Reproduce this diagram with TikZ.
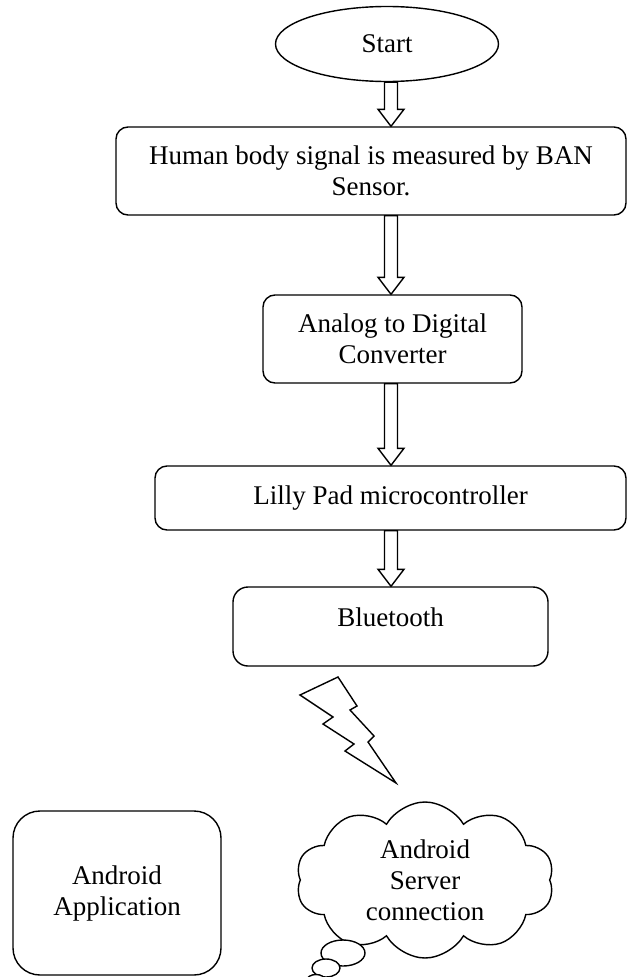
\documentclass[tikz,border=0pt]{standalone}
\usepackage{fontspec}
\setmainfont{Liberation Serif}
\usepackage{tikz}
\usetikzlibrary{shapes.geometric,shapes.symbols,calc}

\tikzset{
  box/.style={draw, line width=1.4pt, rounded corners=12pt, align=center, inner sep=0pt},
  hollowarrow/.style={draw, line width=1.4pt, line join=miter, fill=white},
  bubble/.style={draw, line width=1.4pt, ellipse, fill=white, inner sep=0pt},
}

% hollow block arrow between two nodes, on the common axis
\newcommand{\flowarrow}[2]{%
  \draw[hollowarrow] let \p1=(#1.south -| axis), \p2=(#2.north -| axis) in
    (\x1-6.5pt,\y1) -- (\x1-6.5pt,\y2+17pt) -- (\x1-13pt,\y2+17pt) -- (\x1,\y2)
    -- (\x1+13pt,\y2+17pt) -- (\x1+6.5pt,\y2+17pt) -- (\x1+6.5pt,\y1) -- cycle;}

\begin{document}
\begin{tikzpicture}[x=1pt,y=-1pt,font=\fontsize{27}{31}\selectfont]
\useasboundingbox (0,0) rectangle (628,977);
\coordinate (axis) at (391,0);

\node[draw, line width=1.4pt, ellipse, minimum width=223pt, minimum height=75pt] (start) at (387,44) {Start};
\node[box, minimum width=510pt, minimum height=88pt] (human) at (371,171)
  {Human body signal is measured by BAN\\Sensor.};
\node[box, minimum width=259pt, minimum height=88pt] (adc) at (392.5,339)
  {Analog to Digital\\Converter};
\node[box, minimum width=471pt, minimum height=64pt] (lilly) at (390.5,498)
  {Lilly Pad microcontroller};
\node[box, minimum width=315pt, minimum height=79pt, rounded corners=15pt,
  text height=20pt, text depth=20pt] (bt) at (390.5,626.5) {Bluetooth};

\node[box, minimum width=208pt, minimum height=164pt, rounded corners=27pt] (app) at (117,893)
  {Android\\Application};
\node[draw, line width=1.4pt, align=center, inner sep=0pt, cloud, cloud puffs=10,
  cloud puff arc=120, aspect=1.65, minimum width=258pt, minimum height=156pt] (server) at (425,880)
  {Android\\Server\\connection};

% thought bubbles under the cloud
\node[bubble, minimum width=44pt, minimum height=26pt] (tail1) at (343,953) {};
\node[bubble, minimum width=28pt, minimum height=18pt] (tail2) at (326,968) {};
\node[bubble, minimum width=18pt, minimum height=11pt] (tail3) at (316,980) {};

\flowarrow{start}{human}
\flowarrow{human}{adc}
\flowarrow{adc}{lilly}
\flowarrow{lilly}{bt}

% wireless link
\draw[line width=1.4pt, line join=miter] (338,677) -- (300,695) -- (333,717) -- (323,724)
  -- (354,744) -- (345,751) -- (396,783) -- (368,742) -- (374,736) -- (350,710)
  -- (357,706) -- cycle;
\end{tikzpicture}
\end{document}
